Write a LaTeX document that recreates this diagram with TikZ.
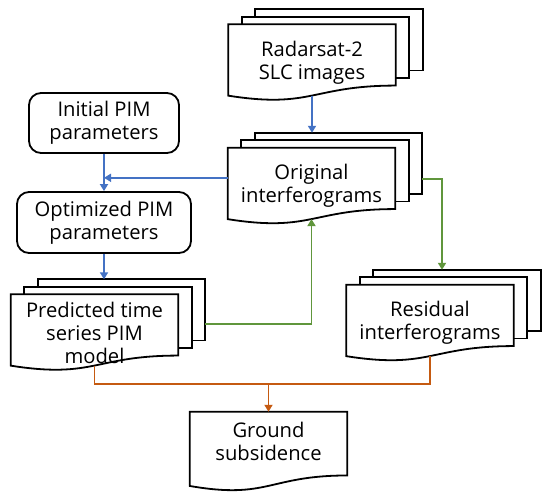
\documentclass[tikz,border=0pt]{standalone}
\usepackage{fontspec}
\setmainfont{Open Sans}
\usepackage{xcolor}
\usetikzlibrary{arrows.meta, calc, backgrounds}

\definecolor{flowblue}{RGB}{68,114,196}
\definecolor{flowgreen}{RGB}{96,150,60}
\definecolor{floworange}{RGB}{197,90,17}

% outline of one document sheet, wavy bottom
\newcommand{\docpath}[1]{(#1.north west) -- (#1.north east)
  -- ($(#1.north east)!0.802!(#1.south east)$)
  .. controls ($(#1.north)!0.802!(#1.south)$) and ($(#1.north)!1.107!(#1.south)$)
  .. ($(#1.north west)!0.934!(#1.south west)$) -- cycle}

\newcommand{\wavedoc}[1]{%
  \begin{pgfonlayer}{background}
    \draw[sheet] \docpath{#1};
  \end{pgfonlayer}
  \coordinate (#1-bot) at ($(#1.north)!0.933!(#1.south)$);}

\newcommand{\stackdoc}[1]{%
  \begin{pgfonlayer}{background}
    \foreach \dx/\dy in {27/-15,13.5/-7.5}
      \draw[sheet] ($(#1.north west)+(\dx,\dy)$)
        rectangle ($(#1.north east)!0.802!(#1.south east)+(\dx,\dy)$);
    \draw[sheet] \docpath{#1};
  \end{pgfonlayer}
  \coordinate (#1-bot) at ($(#1.north)!0.933!(#1.south)$);
  \coordinate (#1-top) at ($(#1.north)+(0,-15)$);}

\tikzset{
  sheet/.style={draw=black,line width=1.8pt,fill=white},
  txt/.style={font=\fontsize{20.2}{23}\selectfont,align=center,inner sep=2pt},
  docbox/.style={txt,minimum width=167pt,minimum height=76pt},
  parbox/.style={txt,draw,line width=1.8pt,rounded corners=12pt},
  link/.style={line width=1.7pt},
  flow/.style={link,-{Triangle[length=7pt,width=8pt]}}
}

\begin{document}
\begin{tikzpicture}[x=1pt,y=-1pt]
  \useasboundingbox (0,0) rectangle (550,496);

  \node[docbox] (rad) at (312,62.5) {Radarsat-2\\SLC images};
  \stackdoc{rad}
  \node[docbox] (org) at (311.5,186) {Original\\interferograms};
  \stackdoc{org}
  \node[docbox] (pred) at (94.5,332.5) {Predicted time\\series PIM\\model};
  \stackdoc{pred}
  \node[docbox] (res) at (430,323) {Residual\\interferograms};
  \stackdoc{res}
  \node[docbox,minimum width=157pt,minimum height=79pt,text depth=21pt]
    (gnd) at (268.5,451.5) {Ground\\subsidence};
  \wavedoc{gnd}

  \node[parbox,minimum width=150pt,minimum height=60pt] (init) at (104,123)
    {Initial PIM\\parameters};
  \node[parbox,minimum width=174pt,minimum height=61pt] (opt) at (104,222.5)
    {Optimized PIM\\parameters};

  % blue links
  \draw[flow,flowblue] (rad-bot) -- (rad-bot |- org-top);
  \draw[flow,flowblue] (init) -- (opt);
  \coordinate (orgtap) at ($(org.north west)+(0,30)$);
  \draw[flow,flowblue] (orgtap) -- (orgtap -| init);
  \draw[flow,flowblue] (opt) -- (opt |- pred-top);

  % green links
  \coordinate (predtap) at ($(pred.north east)+(27,30)$);
  \draw[flow,flowgreen] (predtap) -| (org-bot);
  \coordinate (orgout) at ($(org.north east)+(27,31)$);
  \coordinate (resin) at ($(res-top)+(12,0)$);
  \draw[flow,flowgreen] (orgout) -| (resin);

  % orange links
  \coordinate (join) at ($(gnd.north)+(0,-28)$);
  \draw[link,floworange] (pred-bot) |- (join) -| (res-bot);
  \draw[flow,floworange] (join) -- (gnd);
\end{tikzpicture}
\end{document}
